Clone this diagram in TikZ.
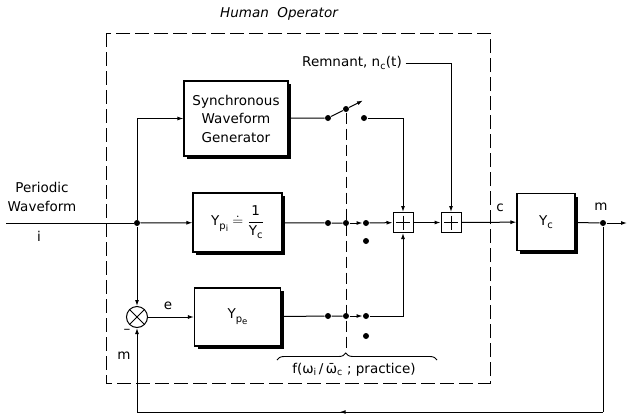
\documentclass[tikz,border=0pt]{standalone}
\usepackage{amsmath, amssymb}
\usepackage{fontspec}
\setmainfont{DejaVu Sans}
\setsansfont{DejaVu Sans}
\usepackage{tikz}
\usetikzlibrary{arrows.meta, shadows, decorations.pathreplacing, decorations.markings, positioning}
\newcommand{\lowsub}[1]{\raisebox{-3.5pt}{\fontsize{10}{10}\selectfont #1}}
\newcommand{\lowersub}[1]{\raisebox{-2.5pt}{\fontsize{8.5}{8.5}\selectfont #1}}

\begin{document}
\begin{tikzpicture}[x=1pt, y=-1pt, line width=1pt,
        font=\fontsize{13.5}{18.5}\selectfont,
        >={Latex[length=6pt, width=4pt]},
        block/.style={draw, fill=white, line width=1.1pt, align=center, inner sep=2pt,
            drop shadow={shadow xshift=3pt, shadow yshift=-3pt, fill=black, opacity=1}},
        jdot/.style={circle, fill, inner sep=0pt, minimum size=6pt},
        sumx/.style={circle, draw, minimum size=21pt, inner sep=0pt,
            path picture={\draw (path picture bounding box.north west) -- (path picture bounding box.south east)
                (path picture bounding box.north east) -- (path picture bounding box.south west);}},
        plusbox/.style={draw, minimum size=20pt, inner sep=0pt,
            path picture={\draw ([yshift=-3pt]path picture bounding box.north) -- ([yshift=3pt]path picture bounding box.south)
                ([xshift=3pt]path picture bounding box.west) -- ([xshift=-3pt]path picture bounding box.east);}},
        midarr/.style={postaction={decorate, decoration={markings, mark=at position #1 with {\arrow{>}}}}},
        frame/.style={dash pattern=on 14pt off 5pt},
        link/.style={dash pattern=on 11pt off 5pt}]
    \useasboundingbox (0,0) rectangle (627,416);

    \node[font=\fontsize{13.5}{18.5}\selectfont\itshape] (title) at (279,14) {Human\ \ Operator};
    \draw[frame] (106,33) rectangle (490,383);

    \node[block, minimum width=104pt, minimum height=75pt] (swg) at (236,118.5)
        {Synchronous\\Waveform\\Generator};
    \node[block, minimum width=89pt, minimum height=59pt] (ypi) at (237.5,222.5)
        {Y\lowsub{p\lowersub{i}}\ $\doteq$\ $\dfrac{\mathrm{1}}{\mbox{Y\lowsub{c}}}$};
    \node[block, minimum width=86pt, minimum height=58pt] (ype) at (237.5,317)
        {Y\lowsub{p\lowersub{e}}};
    \node[block, minimum width=58pt, minimum height=57pt] (yc) at (546,222)
        {Y\lowsub{c}};

    \node[sumx] (sum) at (137,317) {};
    \node[plusbox] (p1) at (403,222.5) {};
    \node[plusbox] (p2) at (451,222.5) {};

    \coordinate (in) at (6,223);
    \coordinate (out) at (627,223);
    \node[jdot] (jin) at (137,223) {};
    \node[jdot] (jm) at (603,223) {};
    \coordinate (fbR) at (603,412);
    \coordinate (fbL) at (137,412);

    \node[jdot] (s1a) at (328,118) {};
    \node[jdot] (piv) at (346,109) {};
    \coordinate (tip) at (363,100.5);
    \node[jdot] (s1c) at (364,118) {};
    \node[jdot] (s2a) at (328,223) {};
    \node[jdot] (s2p) at (346,223) {};
    \node[jdot] (s2c) at (366,223) {};
    \node[jdot] (s2d) at (366,241) {};
    \node[jdot] (s3a) at (328,316) {};
    \node[jdot] (s3p) at (346,316) {};
    \node[jdot] (s3c) at (366,316) {};
    \node[jdot] (s3d) at (366,336) {};

    \node[align=center] (pw) at (42,197) {Periodic\\Waveform};
    \node (ilbl) at (39,236) {i};
    \node (elbl) at (168,306) {e};
    \node (minus) at (127,331) {--};
    \node (mlbl) at (124,356) {m};
    \node (clbl) at (500,208) {c};
    \node (mout) at (601,207) {m};
    \node (rem) at (352,63) {Remnant, n\textsubscript{c}(t)};

    \draw (in) -- (jin);
    \draw[->] (jin) -- (ypi);
    \draw[->] (jin) |- (swg);
    \draw[->] (jin) -- (sum);
    \draw[->] (sum) -- (ype);

    \draw (swg) -- (s1a);
    \draw[->] (s1a) -- (piv) -- (tip);
    \draw[->] (s1c) -| (p1);
    \draw (ypi) -- (s2a) -- (s2p);
    \draw[->] (s2p) -- (s2c);
    \draw[->] (s2c) -- (p1);
    \draw (ype) -- (s3a) -- (s3p);
    \draw[->] (s3p) -- (s3c);
    \draw[->] (s3c) -| (p1);

    \draw[->] (rem) -| (p2);
    \draw[->] (p1) -- (p2);
    \draw[->] (p2) -- (yc);
    \draw (yc) -- (jm);
    \draw[->] (jm) -- (out);
    \draw (jm) -- (fbR);
    \draw[midarr=0.565] (fbR) -- (fbL);
    \draw[->] (fbL) -- (sum);

    \coordinate (brtip) at (346,352);
    \draw[link] (piv) -- (brtip);
    \draw[decorate, decoration={brace, amplitude=7pt, aspect=0.43}, line width=0.9pt] (277,360) -- (437,360);
    \node (fw) at (354,370) {f(ω\textsubscript{i}\,/\,\={ω}\textsubscript{c} ; practice)};
\end{tikzpicture}
\end{document}
